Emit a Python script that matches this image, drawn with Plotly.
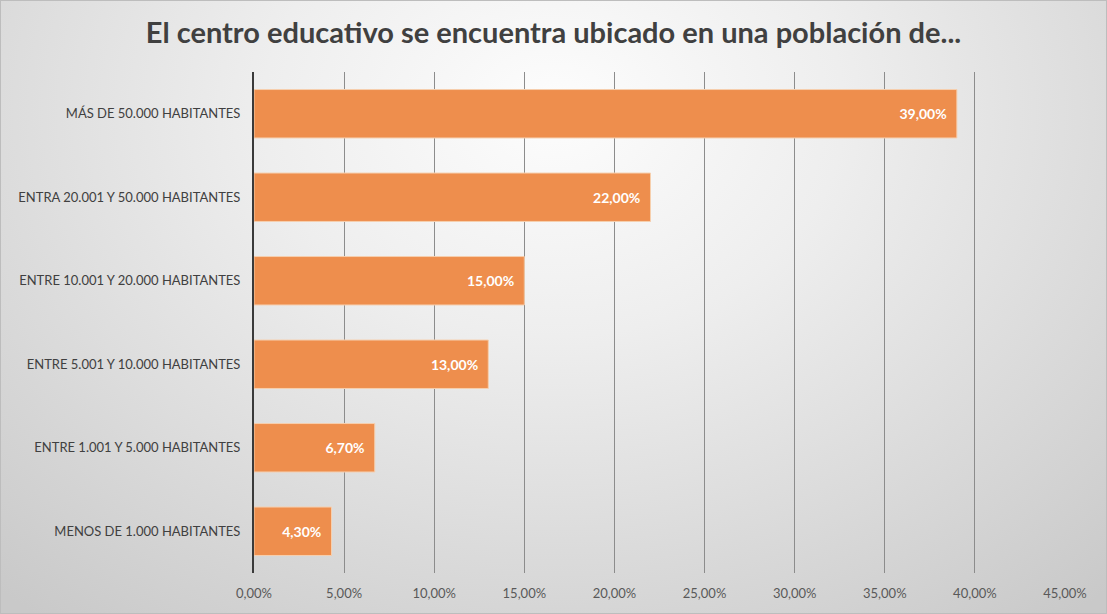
import base64
import plotly.graph_objects as go

# Survey results: population size of the town where the school is located
categories = [
    "MENOS DE 1.000 HABITANTES",
    "ENTRE 1.001 Y 5.000 HABITANTES",
    "ENTRE 5.001 Y 10.000 HABITANTES",
    "ENTRE 10.001 Y 20.000 HABITANTES",
    "ENTRA 20.001 Y 50.000 HABITANTES",
    "MÁS DE 50.000 HABITANTES",
]
shares = [0.043, 0.067, 0.13, 0.15, 0.22, 0.39]
x_ticks = [0, 0.05, 0.10, 0.15, 0.20, 0.25, 0.30, 0.35, 0.40, 0.45]

W, H = 1107, 614
L, R, T, B = 254, 42, 72, 41
pw, ph = W - L - R, H - T - B

# Soft radial grey background for the whole canvas
svg = f"""<svg xmlns='http://www.w3.org/2000/svg' width='{W}' height='{H}' viewBox='0 0 {W} {H}' preserveAspectRatio='none'>
<defs><radialGradient id='g' cx='50%' cy='18%' r='75%' gradientTransform='translate(0.5 0.18) scale(1 1.4) translate(-0.5 -0.18)'>
<stop offset='0' stop-color='#fdfdfd'/><stop offset='0.35' stop-color='#eeeeee'/>
<stop offset='1' stop-color='#c9c9c9'/></radialGradient></defs>
<rect width='{W}' height='{H}' fill='url(#g)'/>
<rect x='0.5' y='0.5' width='{W-1}' height='{H-1}' fill='none' stroke='#bdbdbd' stroke-width='1'/>
</svg>"""
bg_uri = "data:image/svg+xml;base64," + base64.b64encode(svg.encode()).decode()

fig = go.Figure(
    go.Bar(
        x=shares,
        y=categories,
        orientation="h",
        marker=dict(color="#ee8e4d", line=dict(color="#f6cfae", width=1)),
        texttemplate="<b>%{x:.2%}</b>\u00a0\u00a0",
        textposition="inside",
        insidetextanchor="end",
        textfont=dict(color="#ffffff", size=14, family="Lato"),
        cliponaxis=False,
        hoverinfo="skip",
    )
)

fig.update_layout(
    width=W,
    height=H,
    margin=dict(l=L, r=R, t=T, b=B),
    separators=",.",
    paper_bgcolor="#e6e6e6",
    plot_bgcolor="rgba(0,0,0,0)",
    bargap=0.42,
    showlegend=False,
    font=dict(family="Lato", color="#404040"),
    title=dict(
        text="<b>El centro educativo se encuentra ubicado en una población de...</b>",
        x=0.5,
        xanchor="center",
        y=1 - 33 / H,
        yanchor="middle",
        font=dict(size=29, color="#404040", family="Lato"),
    ),
    images=[
        dict(
            source=bg_uri,
            xref="paper",
            yref="paper",
            x=-L / pw,
            y=1 + T / ph,
            sizex=W / pw,
            sizey=H / ph,
            xanchor="left",
            yanchor="top",
            sizing="stretch",
            layer="below",
        )
    ],
    xaxis=dict(
        range=[0, 0.45],
        tickvals=x_ticks,
        tickformat=".2%",
        showgrid=True,
        gridcolor="#8c8c8c",
        gridwidth=1,
        zeroline=False,
        showline=False,
        ticks="outside",
        ticklen=8,
        tickcolor="rgba(0,0,0,0)",
        tickfont=dict(size=13, color="#595959", family="Lato"),
        fixedrange=True,
    ),
    yaxis=dict(
        categoryorder="array",
        categoryarray=categories,
        showgrid=False,
        showline=True,
        linecolor="#3a3a3a",
        linewidth=2,
        ticks="outside",
        ticklen=9,
        tickcolor="rgba(0,0,0,0)",
        tickfont=dict(size=13, color="#404040", family="Lato"),
        fixedrange=True,
    ),
)

fig.write_html("out.html")
